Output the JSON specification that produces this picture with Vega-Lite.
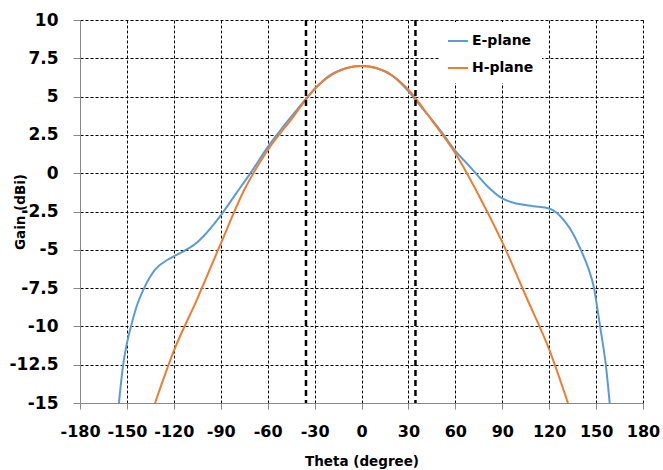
{
  "$schema": "https://vega.github.io/schema/vega-lite/v6.json",
  "width": 563,
  "height": 383,
  "autosize": {"type": "none"},
  "padding": {"left": 80, "top": 20, "right": 20, "bottom": 67},
  "background": "white",
  "config": {"view": {"stroke": null}, "font": "DejaVu Sans"},
  "datasets": {
    "curves": [
      {"series": "E-plane", "theta": -155.1, "gain": -15},
      {"series": "E-plane", "theta": -152.4, "gain": -12.5},
      {"series": "E-plane", "theta": -150, "gain": -11.1},
      {"series": "E-plane", "theta": -147.4, "gain": -10},
      {"series": "E-plane", "theta": -143.8, "gain": -8.7},
      {"series": "E-plane", "theta": -139, "gain": -7.5},
      {"series": "E-plane", "theta": -132, "gain": -6.3},
      {"series": "E-plane", "theta": -124, "gain": -5.65},
      {"series": "E-plane", "theta": -119.5, "gain": -5.4},
      {"series": "E-plane", "theta": -113, "gain": -5.05},
      {"series": "E-plane", "theta": -105, "gain": -4.5},
      {"series": "E-plane", "theta": -100, "gain": -4.0},
      {"series": "E-plane", "theta": -95, "gain": -3.4},
      {"series": "E-plane", "theta": -90, "gain": -2.75},
      {"series": "E-plane", "theta": -80, "gain": -1.3},
      {"series": "E-plane", "theta": -70, "gain": 0.15},
      {"series": "E-plane", "theta": -60, "gain": 1.7},
      {"series": "E-plane", "theta": -50, "gain": 3.05},
      {"series": "E-plane", "theta": -40, "gain": 4.3},
      {"series": "E-plane", "theta": -30, "gain": 5.5},
      {"series": "E-plane", "theta": -20, "gain": 6.4},
      {"series": "E-plane", "theta": -10, "gain": 6.85},
      {"series": "E-plane", "theta": 0, "gain": 7.0},
      {"series": "E-plane", "theta": 10, "gain": 6.85},
      {"series": "E-plane", "theta": 20, "gain": 6.35},
      {"series": "E-plane", "theta": 30, "gain": 5.35},
      {"series": "E-plane", "theta": 40, "gain": 4.1},
      {"series": "E-plane", "theta": 50, "gain": 2.85},
      {"series": "E-plane", "theta": 60, "gain": 1.45},
      {"series": "E-plane", "theta": 70, "gain": 0.35},
      {"series": "E-plane", "theta": 80, "gain": -0.8},
      {"series": "E-plane", "theta": 90, "gain": -1.65},
      {"series": "E-plane", "theta": 100, "gain": -2.0},
      {"series": "E-plane", "theta": 110, "gain": -2.15},
      {"series": "E-plane", "theta": 120, "gain": -2.3},
      {"series": "E-plane", "theta": 125, "gain": -2.6},
      {"series": "E-plane", "theta": 130, "gain": -3.15},
      {"series": "E-plane", "theta": 135, "gain": -3.9},
      {"series": "E-plane", "theta": 140, "gain": -4.95},
      {"series": "E-plane", "theta": 145, "gain": -6.2},
      {"series": "E-plane", "theta": 148.7, "gain": -7.5},
      {"series": "E-plane", "theta": 151, "gain": -8.95},
      {"series": "E-plane", "theta": 153.5, "gain": -10.6},
      {"series": "E-plane", "theta": 156.2, "gain": -12.5},
      {"series": "E-plane", "theta": 158.7, "gain": -15},
      {"series": "H-plane", "theta": -132, "gain": -15},
      {"series": "H-plane", "theta": -120, "gain": -11.6},
      {"series": "H-plane", "theta": -105, "gain": -8.2},
      {"series": "H-plane", "theta": -90, "gain": -4.6},
      {"series": "H-plane", "theta": -75, "gain": -1.1},
      {"series": "H-plane", "theta": -60, "gain": 1.5},
      {"series": "H-plane", "theta": -45, "gain": 3.5},
      {"series": "H-plane", "theta": -30, "gain": 5.5},
      {"series": "H-plane", "theta": -15, "gain": 6.65},
      {"series": "H-plane", "theta": 0, "gain": 7.0},
      {"series": "H-plane", "theta": 15, "gain": 6.65},
      {"series": "H-plane", "theta": 30, "gain": 5.45},
      {"series": "H-plane", "theta": 45, "gain": 3.45},
      {"series": "H-plane", "theta": 60, "gain": 1.3},
      {"series": "H-plane", "theta": 75, "gain": -1.45},
      {"series": "H-plane", "theta": 90, "gain": -4.5},
      {"series": "H-plane", "theta": 105, "gain": -8.0},
      {"series": "H-plane", "theta": 120, "gain": -11.5},
      {"series": "H-plane", "theta": 132, "gain": -15}
    ],
    "markers": [{"theta": -35.5}, {"theta": 34.5}]
  },
  "layer": [
    {
      "data": {"name": "curves"},
      "mark": {"type": "line", "interpolate": "monotone", "strokeWidth": 2, "clip": true},
      "encoding": {
        "x": {
          "field": "theta", "type": "quantitative",
          "scale": {"domain": [-180, 180], "nice": false, "zero": false},
          "axis": {
            "title": "Theta (degree)",
            "values": [-180, -150, -120, -90, -60, -30, 0, 30, 60, 90, 120, 150, 180],
            "labelExpr": "datum.value + ''",
            "labelOverlap": false,
            "labelFlush": false,
            "labelFont": "DejaVu Sans", "labelFontSize": 16, "labelFontWeight": "bold", "labelColor": "black",
            "labelPadding": 14,
            "tickColor": "#888888", "tickSize": 6, "domainColor": "#888888",
            "titleFont": "DejaVu Sans", "titleFontSize": 13.5, "titleFontWeight": "bold", "titleColor": "black",
            "titlePadding": 15,
            "grid": true, "gridColor": "black", "gridDash": [3, 2], "gridWidth": 1,
            "gridOpacity": {"condition": {"test": "datum.value === -180", "value": 0}, "value": 1}
          }
        },
        "y": {
          "field": "gain", "type": "quantitative",
          "scale": {"domain": [-15, 10], "nice": false, "zero": false},
          "axis": {
            "title": "Gain (dBi)",
            "values": [-15, -12.5, -10, -7.5, -5, -2.5, 0, 2.5, 5, 7.5, 10],
            "labelExpr": "datum.value + ''",
            "labelOverlap": false,
            "labelFlush": false,
            "labelFont": "DejaVu Sans", "labelFontSize": 17, "labelFontWeight": "bold", "labelColor": "black",
            "labelPadding": 15,
            "tickColor": "#888888", "tickSize": 7, "domainColor": "#888888",
            "titleFont": "DejaVu Sans", "titleFontSize": 13.5, "titleFontWeight": "bold", "titleColor": "black",
            "titleX": -60, "titleY": 191.5, "titleAngle": 270, "titleAlign": "center", "titleBaseline": "middle",
            "grid": true, "gridColor": "black", "gridDash": [3, 2], "gridWidth": 1,
            "gridOpacity": {"condition": {"test": "datum.value === -15", "value": 0}, "value": 1}
          }
        },
        "color": {
          "field": "series", "type": "nominal",
          "scale": {"domain": ["E-plane", "H-plane"], "range": ["#5B9BD5", "#ED7D31"]},
          "legend": {
            "orient": "none", "legendX": 359, "legendY": 2, "title": null,
            "fillColor": "white", "padding": 8,
            "symbolType": "stroke", "symbolSize": 400, "symbolStrokeWidth": 2,
            "labelFont": "DejaVu Sans", "labelFontSize": 14, "labelFontWeight": "bold", "labelColor": "black",
            "labelOffset": 3, "rowPadding": 9
          }
        }
      }
    },
    {
      "data": {"name": "markers"},
      "mark": {"type": "rule", "color": "black", "strokeWidth": 2.5, "strokeDash": [6, 4]},
      "encoding": {"x": {"field": "theta", "type": "quantitative"}}
    }
  ]
}
